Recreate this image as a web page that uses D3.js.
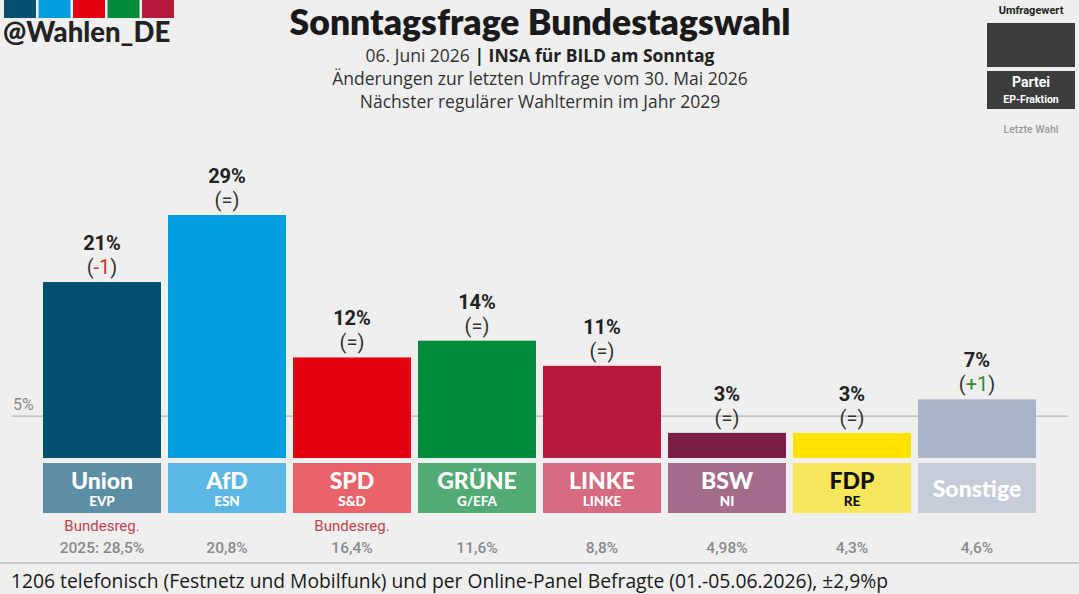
<!DOCTYPE html>
<html>
<head>
<meta charset="utf-8">
<script src="https://cdn.jsdelivr.net/npm/d3@7"></script>
<style>
  body { margin: 0; background: #efefef; }
  svg { display: block; }
</style>
</head>
<body>
<div id="chart"></div>
<script>
// Chart data
const parties = ["Union", "AfD", "SPD", "GRÜNE", "LINKE", "BSW", "FDP", "Sonstige"];
const fractions = ["EVP", "ESN", "S&D", "G/EFA", "LINKE", "NI", "RE", ""];
const values = [21, 29, 12, 14, 11, 3, 3, 7];
const changes = ["-1", "=", "=", "=", "=", "=", "=", "+1"];
const lastElection = ["2025: 28,5%", "20,8%", "16,4%", "11,6%", "8,8%", "4,98%", "4,3%", "4,6%"];
const govParty = [true, false, true, false, false, false, false, false];
const barColors = ["#04506e", "#009ee0", "#e3000f", "#008a3b", "#b5193b", "#7b1f48", "#ffe200", "#a9b5c8"];
const boxColors = ["#5c8fa3", "#5cb7e5", "#e9636b", "#52ab74", "#d56a80", "#a36c8a", "#f8e65c", "#c6ccd8"];
const nameColors = ["#fff", "#fff", "#fff", "#fff", "#fff", "#fff", "#111", "#fff"];
const threshold = 5;
const logoColors = ["#04506e", "#009ee0", "#e3000f", "#008a3b", "#b5193b"];

const width = 1079;
const height = 594;
const baseY = 458;

const svg = d3
  .select("#chart")
  .append("svg")
  .attr("width", width)
  .attr("height", height);

svg.append("rect").attr("width", width).attr("height", height).attr("fill", "#efefef");

// Scales
const x = d3.scaleBand().domain(parties).range([43, 1036]).paddingInner(0.056).paddingOuter(0);
const y = d3.scaleLinear().domain([0, 29]).range([baseY, 215]);

// Logo top-left
svg
  .selectAll(".logo")
  .data(logoColors)
  .enter()
  .append("rect")
  .attr("x", (d, i) => 4 + i * 34.5)
  .attr("y", 0)
  .attr("width", 32)
  .attr("height", 18)
  .attr("fill", (d) => d);

svg
  .append("text")
  .attr("x", 3)
  .attr("y", 42)
  .style("font-family", "Lato, sans-serif")
  .style("font-weight", 900)
  .style("font-size", "27.5px")
  .attr("fill", "#222")
  .text("@Wahlen_DE");

// Title block
svg
  .append("text")
  .attr("x", 540)
  .attr("y", 35)
  .attr("text-anchor", "middle")
  .style("font-family", "Lato, sans-serif")
  .style("font-weight", 800)
  .style("font-size", "35.5px")
  .attr("fill", "#1a1a1a")
  .text("Sonntagsfrage Bundestagswahl");

const sub = svg
  .append("text")
  .attr("x", 540)
  .attr("y", 62)
  .attr("text-anchor", "middle")
  .style("font-family", "'Open Sans', sans-serif")
  .style("font-size", "17.5px")
  .attr("fill", "#333");
sub.append("tspan").text("06. Juni 2026 ");
sub.append("tspan").style("font-weight", 700).attr("fill", "#222").text("| INSA für BILD am Sonntag");

["Änderungen zur letzten Umfrage vom 30. Mai 2026", "Nächster regulärer Wahltermin im Jahr 2029"].forEach((t, i) => {
  svg
    .append("text")
    .attr("x", 540)
    .attr("y", 85 + i * 23)
    .attr("text-anchor", "middle")
    .style("font-family", "'Open Sans', sans-serif")
    .style("font-size", "17.5px")
    .attr("fill", "#333")
    .text(t);
});

// Legend top-right
const legend = svg.append("g").attr("transform", "translate(987, 0)");
legend
  .append("text")
  .attr("x", 44)
  .attr("y", 14)
  .attr("text-anchor", "middle")
  .style("font-family", "Roboto, sans-serif")
  .style("font-weight", 700)
  .style("font-size", "11px")
  .attr("fill", "#222")
  .text("Umfragewert");
legend.append("rect").attr("x", 0).attr("y", 23).attr("width", 88).attr("height", 44).attr("fill", "#3c3c3c");
legend.append("rect").attr("x", 0).attr("y", 71).attr("width", 88).attr("height", 38).attr("fill", "#3c3c3c");
legend
  .append("text")
  .attr("x", 44)
  .attr("y", 87)
  .attr("text-anchor", "middle")
  .style("font-family", "Roboto, sans-serif")
  .style("font-weight", 700)
  .style("font-size", "14px")
  .attr("fill", "#fff")
  .text("Partei");
legend
  .append("text")
  .attr("x", 44)
  .attr("y", 103)
  .attr("text-anchor", "middle")
  .style("font-family", "Roboto, sans-serif")
  .style("font-weight", 700)
  .style("font-size", "10.5px")
  .attr("fill", "#fff")
  .text("EP-Fraktion");
legend
  .append("text")
  .attr("x", 44)
  .attr("y", 133)
  .attr("text-anchor", "middle")
  .style("font-family", "Roboto, sans-serif")
  .style("font-weight", 500)
  .style("font-size", "10.5px")
  .attr("fill", "#999")
  .text("Letzte Wahl");

// 5% threshold line
svg
  .append("line")
  .attr("x1", 12)
  .attr("x2", 1068)
  .attr("y1", y(threshold))
  .attr("y2", y(threshold))
  .attr("stroke", "#b5b5b5")
  .attr("stroke-width", 1.2);
svg
  .append("text")
  .attr("x", 13)
  .attr("y", y(threshold) - 6)
  .style("font-family", "Roboto, sans-serif")
  .style("font-size", "16px")
  .attr("fill", "#888")
  .text(threshold + "%");

const data = parties.map((p, i) => ({
  party: p,
  fraction: fractions[i],
  value: values[i],
  change: changes[i],
  last: lastElection[i],
  gov: govParty[i],
  color: barColors[i],
  box: boxColors[i],
  nameColor: nameColors[i],
}));

// Bars
svg
  .selectAll(".bar")
  .data(data)
  .enter()
  .append("rect")
  .attr("class", "bar")
  .attr("x", (d) => x(d.party))
  .attr("y", (d) => y(d.value))
  .attr("width", x.bandwidth())
  .attr("height", (d) => baseY - y(d.value))
  .attr("fill", (d) => d.color);

// Value labels
svg
  .selectAll(".val")
  .data(data)
  .enter()
  .append("text")
  .attr("class", "val")
  .attr("x", (d) => x(d.party) + x.bandwidth() / 2)
  .attr("y", (d) => y(d.value) - 32)
  .attr("text-anchor", "middle")
  .style("font-family", "Roboto, sans-serif")
  .style("font-weight", 700)
  .style("font-size", "20px")
  .attr("fill", "#222")
  .text((d) => d.value + "%");

const chg = svg
  .selectAll(".chg")
  .data(data)
  .enter()
  .append("text")
  .attr("class", "chg")
  .attr("x", (d) => x(d.party) + x.bandwidth() / 2)
  .attr("y", (d) => y(d.value) - 8)
  .attr("text-anchor", "middle")
  .style("font-family", "Roboto, sans-serif")
  .style("font-size", "20px")
  .attr("fill", "#333");
chg.append("tspan").text("(");
chg
  .append("tspan")
  .attr("fill", (d) => (d.change.startsWith("-") ? "#d0302f" : d.change.startsWith("+") ? "#2e8b2e" : "#333"))
  .text((d) => d.change);
chg.append("tspan").text(")");

// Party boxes
svg
  .selectAll(".box")
  .data(data)
  .enter()
  .append("rect")
  .attr("class", "box")
  .attr("x", (d) => x(d.party))
  .attr("y", 463)
  .attr("width", x.bandwidth())
  .attr("height", 50)
  .attr("fill", (d) => d.box);

svg
  .selectAll(".pname")
  .data(data)
  .enter()
  .append("text")
  .attr("class", "pname")
  .attr("x", (d) => x(d.party) + x.bandwidth() / 2)
  .attr("y", (d) => (d.fraction ? 489 : 497))
  .attr("text-anchor", "middle")
  .style("font-family", "Lato, sans-serif")
  .style("font-weight", 900)
  .style("font-size", "23px")
  .attr("fill", (d) => d.nameColor)
  .text((d) => d.party);

svg
  .selectAll(".frac")
  .data(data)
  .enter()
  .append("text")
  .attr("class", "frac")
  .attr("x", (d) => x(d.party) + x.bandwidth() / 2)
  .attr("y", 506)
  .attr("text-anchor", "middle")
  .style("font-family", "Lato, sans-serif")
  .style("font-weight", 900)
  .style("font-size", "13.5px")
  .attr("fill", (d) => d.nameColor)
  .text((d) => d.fraction);

// Government marker and last election
svg
  .selectAll(".gov")
  .data(data.filter((d) => d.gov))
  .enter()
  .append("text")
  .attr("class", "gov")
  .attr("x", (d) => x(d.party) + x.bandwidth() / 2)
  .attr("y", 531)
  .attr("text-anchor", "middle")
  .style("font-family", "Roboto, sans-serif")
  .style("font-size", "15px")
  .attr("fill", "#c0434b")
  .text("Bundesreg.");

svg
  .selectAll(".last")
  .data(data)
  .enter()
  .append("text")
  .attr("class", "last")
  .attr("x", (d) => x(d.party) + x.bandwidth() / 2)
  .attr("y", 553)
  .attr("text-anchor", "middle")
  .style("font-family", "Roboto, sans-serif")
  .style("font-weight", 500)
  .style("font-size", "15.5px")
  .attr("fill", "#8a8a8a")
  .text((d) => d.last);

// Footer
svg
  .append("line")
  .attr("x1", 0)
  .attr("x2", width)
  .attr("y1", 563)
  .attr("y2", 563)
  .attr("stroke", "#bdbdbd")
  .attr("stroke-width", 1.5);
svg
  .append("text")
  .attr("x", 11)
  .attr("y", 588)
  .style("font-family", "'Open Sans', sans-serif")
  .style("font-size", "19.3px")
  .attr("fill", "#1a1a1a")
  .text("1206 telefonisch (Festnetz und Mobilfunk) und per Online-Panel Befragte (01.-05.06.2026), ±2,9%p");
</script>
</body>
</html>
